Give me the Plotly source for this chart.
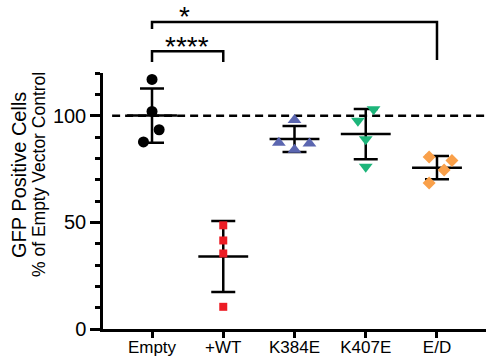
import numpy as np
import plotly.graph_objects as go

categories = ["Empty", "+WT", "K384E", "K407E", "E/D"]
empty_vals = [117.0, 102.0, 93.4, 87.7]
wt_vals = [48.6, 41.5, 35.4, 10.4]
k384e_vals = [98.0, 87.3, 87.0, 84.0]
k407e_vals = [103.0, 97.6, 89.0, 76.0]
ed_vals = [79.0, 80.6, 74.5, 68.4]
series = [empty_vals, wt_vals, k384e_vals, k407e_vals, ed_vals]

y_ticks = [0, 50, 100]
reference_level = 100
sig_pairs = [(0, 1, "****"), (0, 4, "*")]

# styling
jitter = [[0, 0, 0.10, -0.12], [0, 0, 0, 0], [0, -0.22, 0.21, 0],
          [0.11, -0.11, 0, 0], [0.21, -0.11, 0.10, -0.11]]
colors = ["#000000", "#ec1c24", "#5b66b0", "#1db57a", "#f9a04a"]
symbols = ["circle", "square", "triangle-up", "triangle-down", "diamond"]
sizes = [11, 8, 12, 12, 10]
FONT = "Liberation Sans, Arial, sans-serif"
LW = 2.5
YMAX = 120
DOM = 256 / 329

fig = go.Figure()

# dashed reference line
fig.add_trace(go.Scatter(x=[-0.56, 4.688], y=[reference_level] * 2, mode="lines",
                         line=dict(color="black", width=LW, dash="8px,5px"),
                         hoverinfo="skip", showlegend=False))

for i, vals in enumerate(series):
    v = np.array(vals)
    m = v.mean()
    sd = v.std(ddof=1)
    # mean line
    fig.add_trace(go.Scatter(x=[i - 0.35, i + 0.35], y=[m, m], mode="lines",
                             line=dict(color="black", width=LW), showlegend=False))
    # SD error bar
    fig.add_trace(go.Scatter(x=[i], y=[m], mode="markers",
                             marker=dict(size=1, color="rgba(0,0,0,0)"),
                             error_y=dict(type="data", array=[sd], visible=True,
                                          color="black", thickness=LW, width=12),
                             showlegend=False))
    # points
    fig.add_trace(go.Scatter(x=[i + j for j in jitter[i]], y=vals, mode="markers",
                             marker=dict(color=colors[i], symbol=symbols[i], size=sizes[i],
                                         line=dict(width=0)),
                             cliponaxis=False, showlegend=False))

# significance brackets on overlay axis y2
bracket_y = {"****": (130.2, 125.2, 125.2), "*": (143.9, 140.6, 126.1)}
text_y = {"****": 132.6, "*": 146.6}
text_x = {"****": 0.49, "*": 0.46}
for a, b, lab in sig_pairs:
    top, l_end, r_end = bracket_y[lab]
    fig.add_trace(go.Scatter(x=[a, a, b, b], y=[l_end, top, top, r_end], mode="lines",
                             line=dict(color="black", width=LW), xaxis="x", yaxis="y2",
                             showlegend=False))
    fig.add_annotation(x=text_x[lab], y=text_y[lab], xref="x", yref="y2", text=lab,
                       showarrow=False, font=dict(family=FONT, size=28, color="black"),
                       xanchor="center", yanchor="middle")

fig.add_annotation(x=(19 - 103) / 383, y=(329 - 175) / 329, xref="paper", yref="paper",
                   text="GFP Positive Cells", textangle=-90, showarrow=False,
                   font=dict(family=FONT, size=20, color="black"),
                   xanchor="center", yanchor="middle")
fig.add_annotation(x=(39 - 103) / 383, y=(329 - 175) / 329, xref="paper", yref="paper",
                   text="% of Empty Vector Control", textangle=-90, showarrow=False,
                   font=dict(family=FONT, size=17.5, color="black"),
                   xanchor="center", yanchor="middle")

minor_vals = [v for v in range(10, YMAX + 1, 10) if v not in y_ticks]

fig.update_layout(
    width=486, height=359,
    margin=dict(l=103, r=0, t=0, b=30, autoexpand=False),
    paper_bgcolor="white", plot_bgcolor="rgba(0,0,0,0)",
    font=dict(family=FONT, color="black"),
    xaxis=dict(range=[-0.688, 4.688], tickmode="array", tickvals=list(range(len(categories))),
               ticktext=categories, showline=True, linewidth=LW, linecolor="black",
               ticks="outside", ticklen=6, tickwidth=LW, tickcolor="black",
               ticklabelstandoff=-5,
               showgrid=False, zeroline=False, anchor="y",
               tickfont=dict(family=FONT, size=17, color="black")),
    yaxis=dict(domain=[0, DOM], range=[0, YMAX], tickmode="array", tickvals=y_ticks,
               showline=True, linewidth=LW, linecolor="black",
               ticks="outside", ticklen=10, tickwidth=LW, tickcolor="black",
               minor=dict(tickmode="array", tickvals=minor_vals, ticks="outside",
                          ticklen=5, tickwidth=LW, tickcolor="black", showgrid=False),
               showgrid=False, zeroline=False, anchor="x",
               tickfont=dict(family=FONT, size=20, color="black")),
    yaxis2=dict(domain=[0, 1], range=[0, YMAX / DOM], visible=False, anchor="x",
                showgrid=False, zeroline=False),
)

fig.write_html("out.html", config={"displayModeBar": False},
               post_script="document.body.style.margin='0';")
